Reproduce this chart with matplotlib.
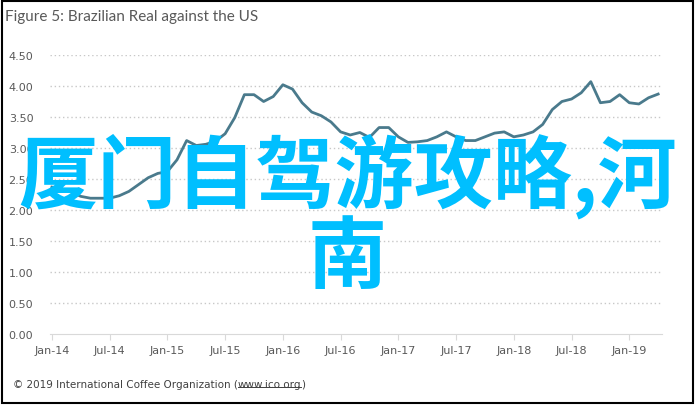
import matplotlib
matplotlib.use("Agg")
import matplotlib.pyplot as plt
import matplotlib.patches as patches
from matplotlib.lines import Line2D

# Monthly BRL per USD, Jan-14 .. Apr-19
rate_2014 = [2.37, 2.34, 2.29, 2.22, 2.19, 2.19, 2.19, 2.23, 2.30, 2.41, 2.52, 2.59]
rate_2015 = [2.62, 2.81, 3.12, 3.04, 3.06, 3.11, 3.23, 3.49, 3.86, 3.86, 3.75, 3.83]
rate_2016 = [4.02, 3.95, 3.73, 3.58, 3.52, 3.42, 3.26, 3.21, 3.25, 3.17, 3.33, 3.33]
rate_2017 = [3.18, 3.09, 3.10, 3.12, 3.18, 3.26, 3.18, 3.12, 3.12, 3.18, 3.24, 3.26]
rate_2018 = [3.18, 3.21, 3.26, 3.38, 3.62, 3.75, 3.79, 3.89, 4.07, 3.73, 3.75, 3.86]
rate_2019 = [3.73, 3.71, 3.81, 3.87]
rates = rate_2014 + rate_2015 + rate_2016 + rate_2017 + rate_2018 + rate_2019

x_labels = ["Jan-14", "Jul-14", "Jan-15", "Jul-15", "Jan-16", "Jul-16",
            "Jan-17", "Jul-17", "Jan-18", "Jul-18", "Jan-19"]
y_ticks = [0.0, 0.5, 1.0, 1.5, 2.0, 2.5, 3.0, 3.5, 4.0, 4.5]

title = "Figure 5: Brazilian Real against the US"
footer_a = "\u00a9 2019 International Coffee Organization ("
footer_link = "www.ico.org"
footer_b = ")"
overlay = "厦门自驾游攻略,河\n南"

gray = "#595959"
fig = plt.figure(figsize=(6.95, 4.06), dpi=100)
ax = fig.add_axes([50 / 695, 1 - 335 / 406, 612 / 695, 279 / 406])

ax.plot(range(len(rates)), rates, color="#4a7a8c", lw=2.0, solid_joinstyle="round", zorder=3)
ax.set_xlim(-0.2, 63.4)
ax.set_ylim(0, 4.5)

ax.set_yticks(y_ticks)
ax.set_yticklabels([f"{v:.2f}" for v in y_ticks], fontsize=8, color=gray)
ax.set_xticks(range(0, len(x_labels) * 6, 6))
ax.set_xticklabels(x_labels, fontsize=8, color=gray)
ax.tick_params(axis="y", length=0, pad=12)
ax.tick_params(axis="x", length=4, color="#d9d9d9", pad=4)

for v in y_ticks[1:]:
    ax.axhline(v, color="#c8c8c8", lw=1.0, ls=(0, (1, 2)), zorder=1)
for s in ["top", "right", "left"]:
    ax.spines[s].set_visible(False)
ax.spines["bottom"].set_color("#d9d9d9")
ax.patch.set_alpha(0)

fig.text(5 / 695, 1 - 17 / 406, title, fontsize=11, color=gray,
         family="Lato", va="center", ha="left")

# footer with underlined link
fig.canvas.draw()
r = fig.canvas.get_renderer()
fy = 1 - 385 / 406
t1 = fig.text(13 / 695, fy, footer_a, fontsize=7.5, color="#404040", va="center")
bb = t1.get_window_extent(r)
t2 = fig.text(bb.x1 / 695, fy, footer_link, fontsize=7.5, color="#404040", va="center")
bb2 = t2.get_window_extent(r)
fig.text(bb2.x1 / 695, fy, footer_b, fontsize=7.5, color="#404040", va="center")
fig.add_artist(Line2D([bb2.x0 / 695, bb2.x1 / 695], [(bb2.y0 + 2) / 406] * 2,
                      color="#404040", lw=0.7))

fig.text(0.5, 1 - 216 / 406, overlay, fontsize=57, color="#00bfff", weight="bold",
         family=["Noto Sans CJK SC", "DejaVu Sans"], ha="center", va="center",
         linespacing=0.98)

fig.add_artist(patches.Rectangle((1.5 / 695, 2.5 / 406), 691 / 695, 402 / 406,
                                 fill=False, edgecolor="black", lw=1.5,
                                 transform=fig.transFigure))

fig.savefig("out.png", dpi=100)
